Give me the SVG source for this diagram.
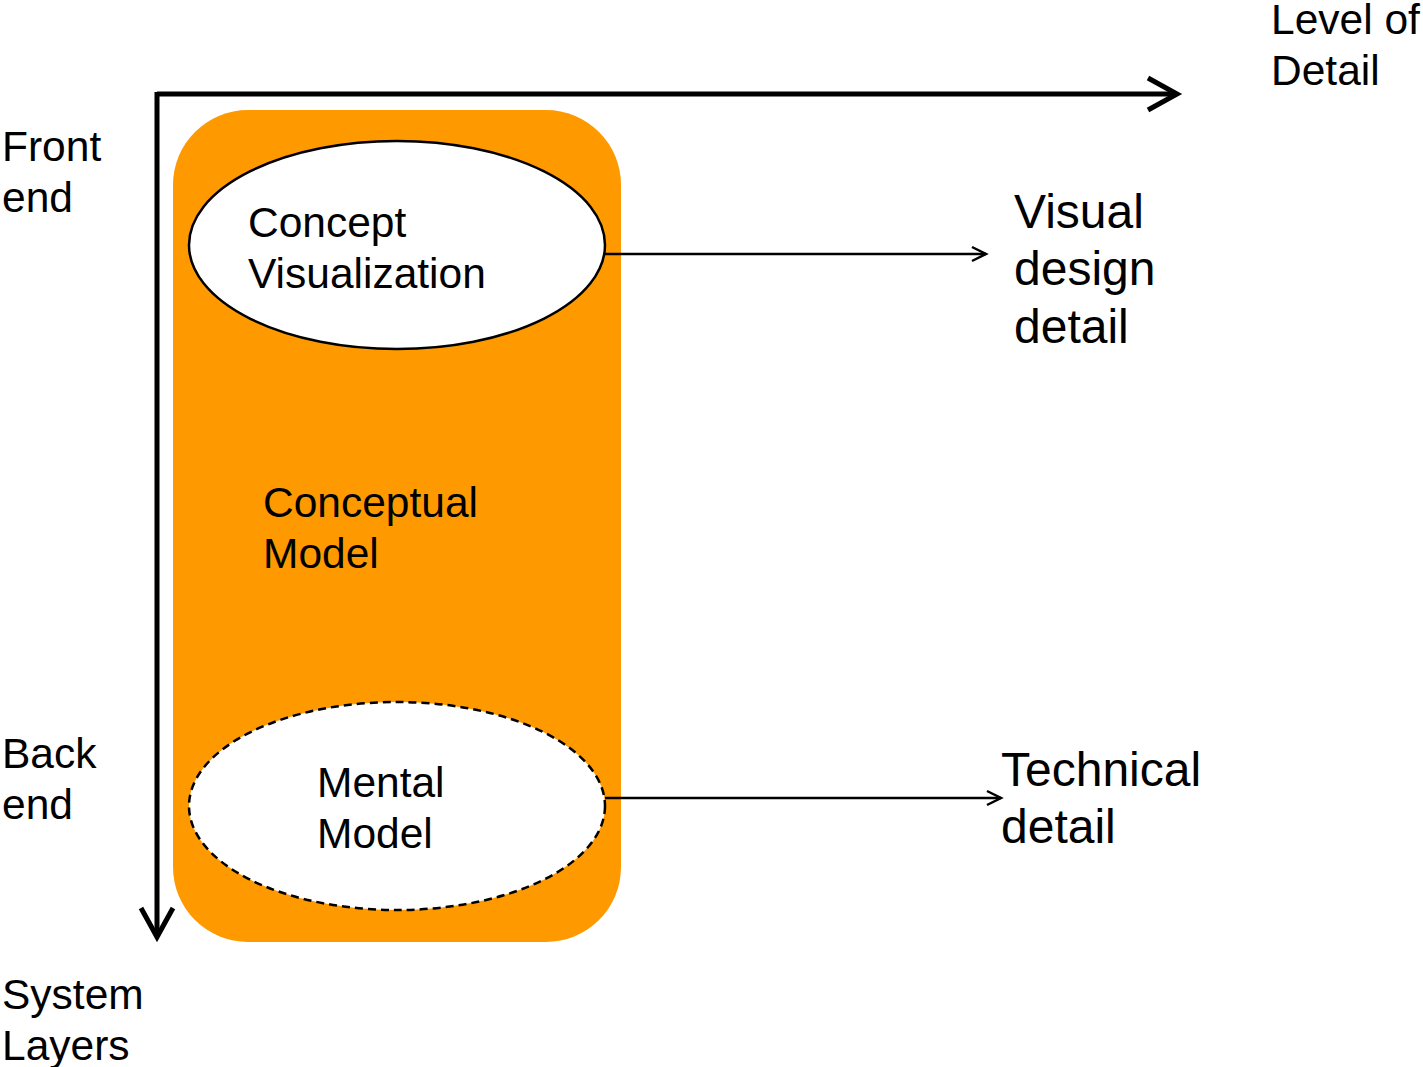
<svg xmlns="http://www.w3.org/2000/svg" width="1423" height="1067" viewBox="0 0 1423 1067">
<style>
text{font-family:"Liberation Sans",Arial,sans-serif;fill:#000}
.t42{font-size:42.5px}
.t47{font-size:48px}
.axis{stroke:#000;stroke-width:5;fill:none}
.conn{stroke:#000;stroke-width:2.5;fill:none}
.ell{fill:#fff;stroke:#000;stroke-width:2.5}
</style>
<defs>
<marker id="open" viewBox="0 0 20 20" refX="17" refY="10" markerWidth="20" markerHeight="20" markerUnits="userSpaceOnUse" orient="auto">
<path d="M3,3 L17,10 L3,17" fill="none" stroke="#000" stroke-width="2.5"/>
</marker>
</defs>
<rect width="1423" height="1067" fill="#fff"/>
<g id="conceptual-model">
<rect x="173" y="110" width="448" height="832" rx="75" ry="75" fill="#FF9900"/>
<text class="t42" x="263" y="517">Conceptual</text>
<text class="t42" x="263" y="568">Model</text>
</g>
<g id="axes">
<path class="axis" d="M157,94 H1176"/>
<path class="axis" d="M1148,78 L1177,94 L1148,110"/>
<path class="axis" d="M157,92 V936"/>
<path class="axis" d="M141,908 L157,937 L173,908"/>
</g>
<g id="concept-visualization">
<ellipse class="ell" cx="397" cy="245" rx="208" ry="104"/>
<text class="t42" x="248" y="237">Concept</text>
<text class="t42" x="248" y="288">Visualization</text>
</g>
<g id="mental-model">
<ellipse class="ell" cx="397" cy="806" rx="208" ry="104" stroke-dasharray="8 5"/>
<text class="t42" x="317" y="797">Mental</text>
<text class="t42" x="317" y="848">Model</text>
</g>
<g id="connectors">
<path class="conn" d="M605,254 H986" marker-end="url(#open)"/>
<path class="conn" d="M605,798 H1001" marker-end="url(#open)"/>
</g>
<g id="labels">
<text class="t42" x="2" y="161">Front</text>
<text class="t42" x="2" y="212">end</text>
<text class="t42" x="2" y="768">Back</text>
<text class="t42" x="2" y="819">end</text>
<text class="t42" x="2" y="1009">System</text>
<text class="t42" x="2" y="1060">Layers</text>
<text class="t42" x="1271" y="34">Level of</text>
<text class="t42" x="1271" y="85">Detail</text>
</g>
<g id="visual-design-detail">
<text class="t47" x="1014" y="228">Visual</text>
<text class="t47" x="1014" y="285">design</text>
<text class="t47" x="1014" y="343">detail</text>
</g>
<g id="technical-detail">
<text class="t47" x="1001" y="786">Technical</text>
<text class="t47" x="1001" y="843">detail</text>
</g>
</svg>
